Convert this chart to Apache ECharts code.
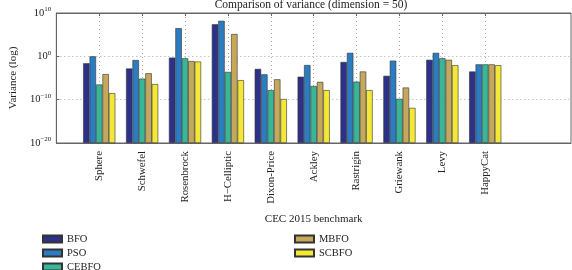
<!DOCTYPE html>
<html>
<head>
<meta charset="utf-8">
<script src="https://cdn.jsdelivr.net/npm/echarts@6/dist/echarts.min.js"></script>
<style>
  html, body { margin: 0; padding: 0; background: #fff; }
  #varianceBar { width: 572px; height: 270px; }
</style>
</head>
<body>
<div id="varianceBar"></div>
<script>
// benchmarks sit at x = 1..10 on a 0..12 axis, so pad the ends
var benchmarks = ["", "Sphere", "Schwefel", "Rosenbrock", "H\u2212Celliptic", "Dixon-Price",
  "Ackley", "Rastrigin", "Griewank", "Levy", "HappyCat", "", ""];

// log10 of the variance
var bfo   = [-1.6, -2.8, -0.3, 7.4, -2.9, -4.7, -1.3, -4.5, -0.8, -3.5];
var pso   = [0.0, -0.85, 6.5, 8.2, -4.15, -2.0, 0.8, -1.0, 0.8, -1.85];
var cebfo = [-6.5, -5.15, -0.45, -3.6, -7.8, -6.85, -5.85, -9.8, -0.45, -1.85];
var mbfo  = [-4.1, -3.9, -1.1, 5.15, -5.3, -5.9, -3.5, -7.2, -0.8, -1.85];
var scbfo = [-8.5, -6.4, -1.2, -5.5, -9.85, -7.8, -7.8, -11.9, -2.05, -2.05];

var yTicks = [-20, -10, 0, 10];

var names = ["BFO", "PSO", "CEBFO", "MBFO", "SCBFO"];
var colors = ["#2e3188", "#2b7cc1", "#38b697", "#c6a85d", "#f4e837"];
var serif = "Liberation Serif";

function pad(arr) {
  return [null].concat(arr, [null, null]);
}

var showTick = function (index, value) {
  return value !== "";
};

var legendText = { fontFamily: serif, fontSize: 10.5, lineHeight: 12, color: "#222" };

var options = {
  animation: false,
  textStyle: { fontFamily: serif, color: "#222" },
  title: {
    text: "Comparison of variance (dimension = 50)",
    left: 306,
    textAlign: "center",
    top: -6,
    textStyle: { fontFamily: serif, fontWeight: "normal", fontSize: 11.5, color: "#222" }
  },
  legend: [
    {
      data: ["BFO", "PSO", "CEBFO"],
      orient: "vertical",
      left: 37,
      top: 228,
      height: 80,
      icon: "rect",
      itemWidth: 19,
      itemHeight: 7,
      itemGap: 2,
      textStyle: legendText
    },
    {
      data: ["MBFO", "SCBFO"],
      orient: "vertical",
      left: 289,
      top: 228,
      height: 80,
      icon: "rect",
      itemWidth: 19,
      itemHeight: 7,
      itemGap: 2,
      textStyle: legendText
    }
  ],
  grid: {
    left: 42,
    right: 1,
    top: 13,
    height: 130,
    show: true,
    borderColor: "#666",
    borderWidth: 1
  },
  xAxis: [
    {
      type: "category",
      data: benchmarks,
      boundaryGap: false,
      name: "CEC 2015 benchmark",
      nameLocation: "middle",
      nameGap: 71,
      nameTextStyle: { fontFamily: serif, fontSize: 11, color: "#222" },
      axisLine: { onZero: false, lineStyle: { color: "#666" } },
      axisTick: { inside: true, length: 3, interval: showTick, lineStyle: { color: "#666" } },
      axisLabel: {
        interval: showTick,
        rotate: 90,
        margin: 8,
        fontFamily: serif,
        fontSize: 10.8,
        color: "#222"
      },
      splitLine: {
        show: true,
        interval: showTick,
        lineStyle: { type: [1, 3], color: "#aaa" }
      }
    },
    {
      type: "category",
      data: benchmarks,
      boundaryGap: false,
      position: "top",
      axisLine: { onZero: false, lineStyle: { color: "#666" } },
      axisTick: { inside: true, length: 3, interval: showTick, lineStyle: { color: "#666" } },
      axisLabel: { show: false },
      splitLine: { show: false }
    }
  ],
  yAxis: {
    type: "value",
    min: yTicks[0],
    max: yTicks[yTicks.length - 1],
    interval: 10,
    startValue: yTicks[0],
    name: "Variance (log)",
    nameLocation: "middle",
    nameGap: 36,
    nameTextStyle: { fontFamily: serif, fontSize: 11, color: "#222" },
    axisLine: { show: true, lineStyle: { color: "#666" } },
    axisTick: { show: true, inside: true, length: 3, lineStyle: { color: "#666" } },
    axisLabel: {
      margin: 5,
      formatter: function (v) {
        return "{b|10}{e|" + String(v).replace("-", "\u2212") + "}";
      },
      rich: {
        b: { fontFamily: serif, fontSize: 10.5, color: "#222" },
        e: { fontFamily: serif, fontSize: 7, color: "#222", padding: [0, 0, 7, 0] }
      }
    },
    splitLine: {
      show: true,
      lineStyle: { type: [1, 3], color: "#aaa" }
    }
  },
  series: []
};

[bfo, pso, cebfo, mbfo, scbfo].forEach(function (vals, n) {
  options.series.push({
    name: names[n],
    type: "bar",
    data: pad(vals),
    barGap: "0%",
    barCategoryGap: "25%",
    itemStyle: { color: colors[n], borderColor: "#333", borderWidth: 0.6 }
  });
});

var barChart = echarts.init(document.getElementById("varianceBar"));
barChart.setOption(options);
</script>
</body>
</html>
